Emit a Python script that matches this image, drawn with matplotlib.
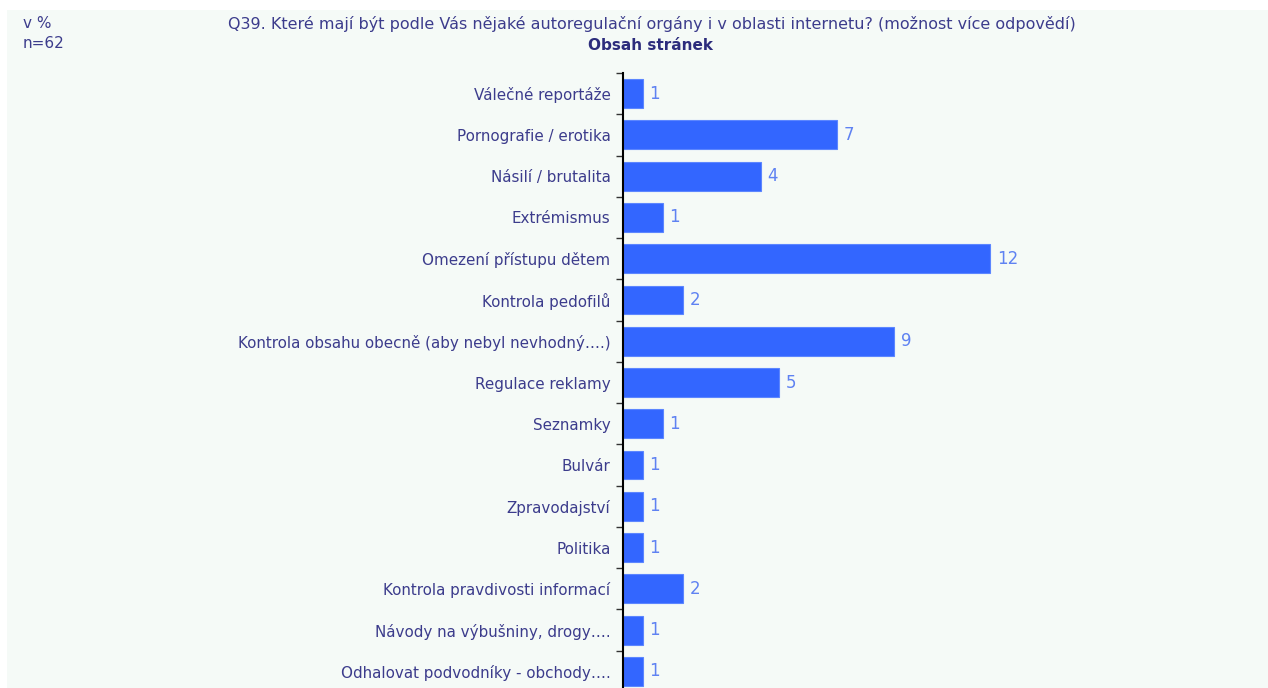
import matplotlib
matplotlib.use("Agg")
import matplotlib.pyplot as plt
from matplotlib.patches import Rectangle
import numpy as np

plt.rcParams['font.family'] = ['DejaVu Sans']

categories = [
    "Válečné reportáže",
    "Pornografie / erotika",
    "Násilí / brutalita",
    "Extrémismus",
    "Omezení přístupu dětem",
    "Kontrola pedofilů",
    "Kontrola obsahu obecně (aby nebyl nevhodný….)",
    "Regulace reklamy",
    "Seznamky",
    "Bulvár",
    "Zpravodajství",
    "Politika",
    "Kontrola pravdivosti informací",
    "Návody na výbušniny, drogy….",
    "Odhalovat podvodníky - obchody….",
]
values = [0.65, 7.0, 4.5, 1.3, 12.0, 1.95, 8.85, 5.1, 1.3, 0.65, 0.65, 0.65, 1.95, 0.65, 0.65]
labels = ["1", "7", "4", "1", "12", "2", "9", "5", "1", "1", "1", "1", "2", "1", "1"]

W, H = 1268, 688
fig = plt.figure(figsize=(W / 100, H / 100), dpi=100)
fig.patch.set_facecolor("white")
fig.add_artist(Rectangle((7 / W, 0), 1 - 7 / W, 1 - 10 / H, transform=fig.transFigure,
                         facecolor="#f5faf7", edgecolor="none", zorder=-5))

ax_left, ax_top, ax_bot, ax_right = 623, 73, 692, 1260
ax = fig.add_axes([ax_left / W, 1 - ax_bot / H, (ax_right - ax_left) / W, (ax_bot - ax_top) / H])
ax.set_facecolor("none")

scale = 30.6  # px per unit
ax.set_xlim(0, (ax_right - ax_left) / scale)
n = len(categories)
ax.set_ylim(n - 0.5, -0.5)

y = np.arange(n)
ax.barh(y, values, height=0.7, color="#3366ff", edgecolor="#5c86ff", linewidth=0.8)
for yi, v, lab in zip(y, values, labels):
    ax.text(v + 0.22, yi, lab, va="center", ha="left", fontsize=12, color="#5f82f2")

ax.set_yticks(y)
ax.set_yticklabels(categories, fontsize=10.9, color="#3c3c8c")
ax.set_yticks(np.arange(n + 1) - 0.5, minor=True)
ax.tick_params(axis="y", which="major", length=0, pad=9)
ax.tick_params(axis="y", which="minor", length=5, width=1, color="#333333")
ax.set_xticks([])
for s in ["top", "right", "bottom"]:
    ax.spines[s].set_visible(False)
ax.spines["left"].set_linewidth(1.5)

fig.text(652 / W, 1 - 24 / H, "Q39. Které mají být podle Vás nějaké autoregulační orgány i v oblasti internetu? (možnost více odpovědí)",
         ha="center", va="center", fontsize=11.5, color="#3c3c8c")
fig.text(651 / W, 1 - 45 / H, "Obsah stránek", ha="center", va="center", fontsize=11,
         fontweight="bold", color="#2c2c7c")
fig.text(23 / W, 1 - 24 / H, "v %", ha="left", va="center", fontsize=11, color="#3c3c8c")
fig.text(23 / W, 1 - 44 / H, "n=62", ha="left", va="center", fontsize=11, color="#3c3c8c")

fig.savefig("out.png", dpi=100)
